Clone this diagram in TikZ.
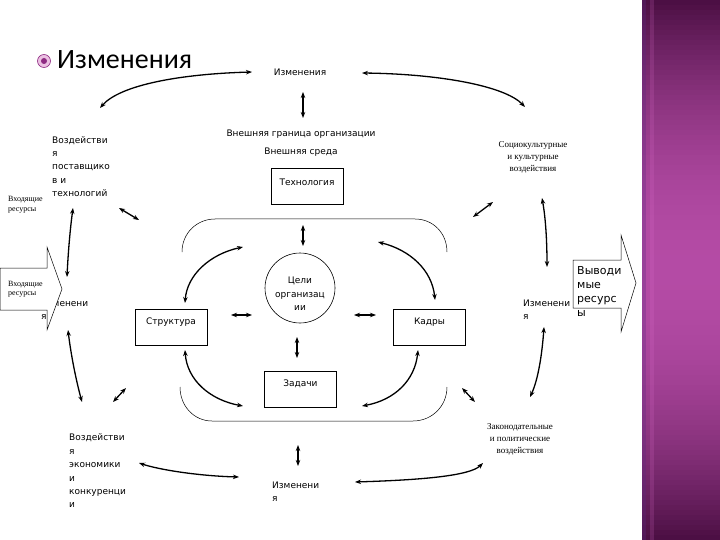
\documentclass[tikz,border=0pt]{standalone}
\usepackage{fontspec}
\setmainfont{DejaVu Sans}
\newfontfamily\titlefont{Carlito}
\newfontfamily\serfont{Liberation Serif}
\usetikzlibrary{arrows.meta}
\definecolor{banddark}{HTML}{4A0E42}
\definecolor{bandmid}{HTML}{B44BA5}
\definecolor{bandedge}{HTML}{5A2A80}
\definecolor{bandline}{HTML}{E070D0}
\definecolor{bulletring}{HTML}{EBC0E2}
\definecolor{bulletdark}{HTML}{8E2A82}
\begin{document}
\begin{tikzpicture}[x=1pt,y=-1pt,
  lbl/.style={font=\fontsize{9}{13.4}\selectfont, inner sep=0pt},
  ser/.style={font=\serfont\fontsize{9}{12}\selectfont, inner sep=0pt, align=center},
  sersm/.style={font=\serfont\fontsize{8}{9.5}\selectfont, inner sep=0pt, align=left},
  boxn/.style={draw, line width=0.7pt, minimum width=72pt, minimum height=36pt, inner sep=0pt},
  boxlbl/.style={anchor=north, yshift=-9pt, lbl},
  dbl/.style={line width=1.3pt, {Stealth[length=6pt,width=4.5pt]}-{Stealth[length=6pt,width=4.5pt]}},
  thinline/.style={line width=0.5pt},
  bigarrow/.style={draw, fill=white, line width=0.5pt}]

\useasboundingbox (0,0) rectangle (720,540);
\fill[white] (0,0) rectangle (720,540);

% decorative band: dark at top and bottom, bright magenta in the middle
\foreach \i in {0,...,107}{
  \pgfmathsetmacro{\t}{abs(\i*5+2.5-270)/270}
  \pgfmathsetmacro{\p}{100*(1-\t*\t)}
  \fill[bandmid!\p!banddark] (642,\i*5) rectangle (720,\i*5+5.6);
}
\fill[bandedge, opacity=0.3] (642,0) rectangle (646,540);
\fill[bandline, opacity=0.18] (650,0) rectangle (654,540);

% title with bullet
\fill[bulletring, draw=bulletdark, line width=0.6pt] (44,61) circle[radius=6.5pt];
\fill[bulletdark] (44,61) circle[radius=3pt];
\node[font=\titlefont\fontsize{28}{30}\selectfont, anchor=west, inner sep=0pt] (title) at (57,60) {Изменения};

% top labels
\node[lbl] (izmtop) at (300,72) {Изменения};
\node[lbl] (border) at (301,134) {Внешняя граница организации};
\node[lbl] (env) at (301,152) {Внешняя среда};

% boxes
\node[boxn, label={[boxlbl, yshift=-2pt]north:Технология}] (tech) at (307,186) {};
\node[boxn, label={[boxlbl]north:Структура}] (struct) at (171,327) {};
\node[boxn, label={[boxlbl]north:Кадры}] (staff) at (429.5,327) {};
\node[boxn, label={[boxlbl]north:Задачи}] (tasks) at (300.5,389) {};
\node[draw, circle, minimum size=70pt, line width=0.6pt, inner sep=0pt] (goal) at (300,288) {};
\node[align=center, font=\fontsize{9}{13.3}\selectfont, inner sep=0pt] (goaltxt) at (300,294) {Цели\\организац\\ии};

% inner boundary (top and bottom parts)
\draw[thinline] (182,252) .. controls (182,233) and (197,219) .. (215,219) -- (415,219)
  .. controls (433,219) and (447,233) .. (447,252);
\draw[thinline] (180,387) .. controls (180,406) and (194,421) .. (212,421) -- (413,421)
  .. controls (432,421) and (447,406) .. (447,387);

% outer texts
\node[lbl, align=left, anchor=west] (supp) at (52,166.5) {Воздействи\\я\\поставщико\\в и\\технологий};
\node[sersm, anchor=west] (inres1) at (8,204.5) {Входящие\\ресурсы};
\node[ser] (social) at (533,157) {Социокультурные\\и культурные\\воздействия};
\node[lbl, align=left, anchor=west] (izmleft) at (41,310) {Изменени\\я};
\node[ser] (law) at (520,439) {Законодательные\\и политические\\воздействия};
\node[lbl, align=left, anchor=west] (econ) at (69,471) {Воздействи\\я\\экономики\\и\\конкуренци\\и};
\node[lbl, align=left, anchor=west] (izmbot) at (272,492) {Изменени\\я};

% big input / output arrows
\draw[bigarrow] (0,268) -- (47,268) -- (47,247) -- (62,289) -- (47,330) -- (47,310) -- (0,310) -- cycle;
\node[sersm, anchor=west] (inres2) at (8,289) {Входящие\\ресурсы};
\draw[bigarrow] (573,260) -- (621,260) -- (621,235) -- (636,283) -- (621,332) -- (621,308) -- (573,308) -- cycle;
\node[font=\fontsize{11}{14}\selectfont, inner sep=0pt, align=left, anchor=west] (outres) at (577,291) {Выводи\\мые\\ресурс\\ы};
\node[lbl, align=left, anchor=west] (izmright) at (523,310) {Изменени\\я};

% connector end points
\coordinate (a1) at (252,72);  \coordinate (a2) at (100,108);
\coordinate (b1) at (362,73);  \coordinate (b2) at (525,107);
\coordinate (c1) at (303,92);  \coordinate (c2) at (303,118);
\coordinate (d1) at (73,208);  \coordinate (d2) at (67,277);
\coordinate (e1) at (68,330);  \coordinate (e2) at (82,402);
\coordinate (f1) at (119,208); \coordinate (f2) at (139,220);
\coordinate (g1) at (473,217); \coordinate (g2) at (493,202);
\coordinate (h1) at (542,198); \coordinate (h2) at (547,267);
\coordinate (i1) at (544,327); \coordinate (i2) at (530,397);
\coordinate (j1) at (462,388); \coordinate (j2) at (475,402);
\coordinate (k1) at (113,402); \coordinate (k2) at (126,388);
\coordinate (l1) at (139,463); \coordinate (l2) at (239,477);
\coordinate (m1) at (355,482); \coordinate (m2) at (483,463);
\coordinate (n1) at (298,445); \coordinate (n2) at (298,466);
\coordinate (p1) at (303,225); \coordinate (p2) at (303,246);
\coordinate (q1) at (231,315); \coordinate (q2) at (252,315);
\coordinate (r1) at (354,315); \coordinate (r2) at (376,315);
\coordinate (s1) at (297,337); \coordinate (s2) at (297,358);
\coordinate (t1) at (243,247); \coordinate (t2) at (185,303);
\coordinate (u1) at (378,242); \coordinate (u2) at (435,300);
\coordinate (v1) at (185,350); \coordinate (v2) at (243,406);
\coordinate (w1) at (418,350); \coordinate (w2) at (362,406);

% outer connectors
\draw[dbl] (a1) .. controls (180,74) and (120,85) .. (a2);
\draw[dbl] (b1) .. controls (440,74) and (505,86) .. (b2);
\draw[dbl] (c1) -- (c2);
\draw[dbl] (d1) .. controls (70,230) and (68,255) .. (d2);
\draw[dbl] (e1) .. controls (71,355) and (76,380) .. (e2);
\draw[dbl] (f1) -- (f2);
\draw[dbl] (g1) -- (g2);
\draw[dbl] (h1) .. controls (546,220) and (547,245) .. (h2);
\draw[dbl] (i1) .. controls (542,355) and (538,380) .. (i2);
\draw[dbl] (j1) -- (j2);
\draw[dbl] (k1) -- (k2);
\draw[dbl] (l1) .. controls (160,470) and (200,476) .. (l2);
\draw[dbl] (m1) .. controls (420,480) and (470,476) .. (m2);
\draw[dbl] (n1) -- (n2);

% inner connectors
\draw[dbl] (p1) -- (p2);
\draw[dbl] (q1) -- (q2);
\draw[dbl] (r1) -- (r2);
\draw[dbl] (s1) -- (s2);
\draw[dbl] (t1) .. controls (210,254) and (187,275) .. (t2);
\draw[dbl] (u1) .. controls (410,250) and (432,270) .. (u2);
\draw[dbl] (v1) .. controls (187,380) and (210,400) .. (v2);
\draw[dbl] (w1) .. controls (415,380) and (395,400) .. (w2);
\end{tikzpicture}
\end{document}
